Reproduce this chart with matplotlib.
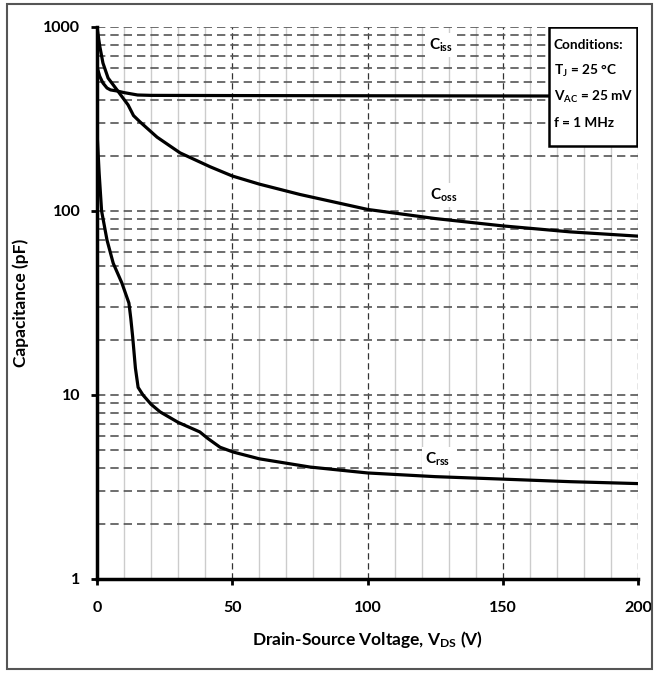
import numpy as np
import matplotlib.pyplot as plt
from matplotlib.patches import Rectangle
from matplotlib.ticker import FixedLocator, NullFormatter

plt.rcParams['font.family'] = ['Lato', 'DejaVu Sans']
plt.rcParams['font.weight'] = 'bold'
plt.rcParams['axes.labelweight'] = 'bold'
plt.rcParams['mathtext.fontset'] = 'custom'
plt.rcParams['mathtext.rm'] = 'Lato:bold'
plt.rcParams['mathtext.it'] = 'Lato:bold'
plt.rcParams['mathtext.bf'] = 'Lato:bold'

# kapasitans egrileri (pF) - V_DS (V)
v_iss = [0, 1, 2.2, 3.7, 5, 7.4, 10, 15, 20, 50, 100, 150, 200]
c_iss = [607, 540, 496, 466, 455, 449, 440, 427, 425, 424, 423, 422, 421]

v_oss = [0, 1, 2.2, 4.1, 7.4, 11.5, 13.5, 15.9, 22.2, 30.7, 41.8, 50, 60, 75, 100, 125, 150, 175, 200]
c_oss = [1000, 790, 637, 528, 455, 377, 330, 305, 252, 207, 174, 155, 140, 123, 102, 91, 83, 77, 73]

v_rss = [0, 0.8, 1.7, 3.7, 6, 9.2, 11.8, 12.5, 13.2, 14.2, 15.2, 17, 20, 23.3, 30, 38, 41, 45.5,
         50.3, 60, 78.7, 100, 125, 150, 175, 200]
c_rss = [270, 160, 100, 69.5, 52, 40.6, 31.6, 26, 20.6, 14, 11, 10, 8.9, 8.1, 7.1, 6.3, 5.8, 5.2,
         4.9, 4.5, 4.06, 3.77, 3.6, 3.49, 3.38, 3.3]

x_ticks = [0, 50, 100, 150, 200]
y_ticks = [1, 10, 100, 1000]

fig = plt.figure(figsize=(6.57, 6.74), dpi=100)
ax = fig.add_axes([97/657, 1-579/674, (638-97)/657, (579-27)/674])

ax.set_yscale('log')
ax.set_xlim(0, 200)
ax.set_ylim(1, 1000)

# izgara cizgileri
for v in range(10, 200, 10):
    if v % 50:
        ax.axvline(v, color='#cccccc', lw=1.0, zorder=1)
for v in x_ticks[1:]:
    ax.axvline(v, color='#333333', lw=0.9, ls=(0, (5, 3)), zorder=1)
for dec in [1, 10, 100]:
    for m in range(2, 11):
        ax.axhline(dec*m, color='#555555', lw=1.2, ls=(0, (5, 3)), zorder=1)

ax.plot(v_iss, c_iss, color='black', lw=2.3, zorder=3)
ax.plot(v_oss, c_oss, color='black', lw=2.3, zorder=3)
ax.plot(v_rss, c_rss, color='black', lw=2.3, zorder=3)

bb = dict(facecolor='white', edgecolor='none', pad=2.5)
ax.text(127, 800, r'C$_{\mathbf{iss}}$', ha='center', va='center', fontsize=11, bbox=bb, zorder=4)
ax.text(128, 122, r'C$_{\mathbf{oss}}$', ha='center', va='center', fontsize=11, bbox=bb, zorder=4)
ax.text(126, 4.5, r'C$_{\mathbf{rss}}$', ha='center', va='center', fontsize=11, bbox=bb, zorder=4)

# kosullar kutusu
x0, x1 = (549-97)/541, (637-97)/541
y0 = (579-146)/552
ax.add_patch(Rectangle((x0, y0), x1-x0, 1-y0, transform=ax.transAxes, facecolor='white',
                       edgecolor='black', lw=1.8, zorder=5))
kosullar = ['Conditions:', r'T$_{\mathbf{J}}$ = 25 °C', r'V$_{\mathbf{AC}}$ = 25 mV', 'f = 1 MHz']
for i, s in enumerate(kosullar):
    ax.text(x0 + 0.009, 1 - (18 + 26*i)/552, s, transform=ax.transAxes, ha='left', va='center',
            fontsize=9.8, zorder=6)

for s in ['top', 'right']:
    ax.spines[s].set_visible(False)
for s in ['left', 'bottom']:
    ax.spines[s].set_linewidth(2.5)
    ax.spines[s].set_zorder(4)

ax.xaxis.set_major_locator(FixedLocator(x_ticks))
ax.yaxis.set_major_locator(FixedLocator(y_ticks))
ax.yaxis.set_minor_formatter(NullFormatter())
ax.set_yticklabels([str(t) for t in y_ticks])
ax.tick_params(axis='both', which='major', labelsize=11.5, length=4, width=2, direction='out')
ax.tick_params(axis='y', which='minor', length=0)
ax.tick_params(axis='x', pad=12)
ax.tick_params(axis='y', pad=8)

ax.set_xlabel(r'Drain-Source Voltage, V$_{\mathbf{DS}}$ (V)', fontsize=12.5, labelpad=10)
ax.set_ylabel('Capacitance (pF)', fontsize=12.5, labelpad=10)

# cerceve
fig.patches.append(Rectangle((7/657, 1-669/674), 645/657, 665/674, transform=fig.transFigure,
                             facecolor='none', edgecolor='#555555', lw=1.5))

plt.savefig('out.png', dpi=100)
